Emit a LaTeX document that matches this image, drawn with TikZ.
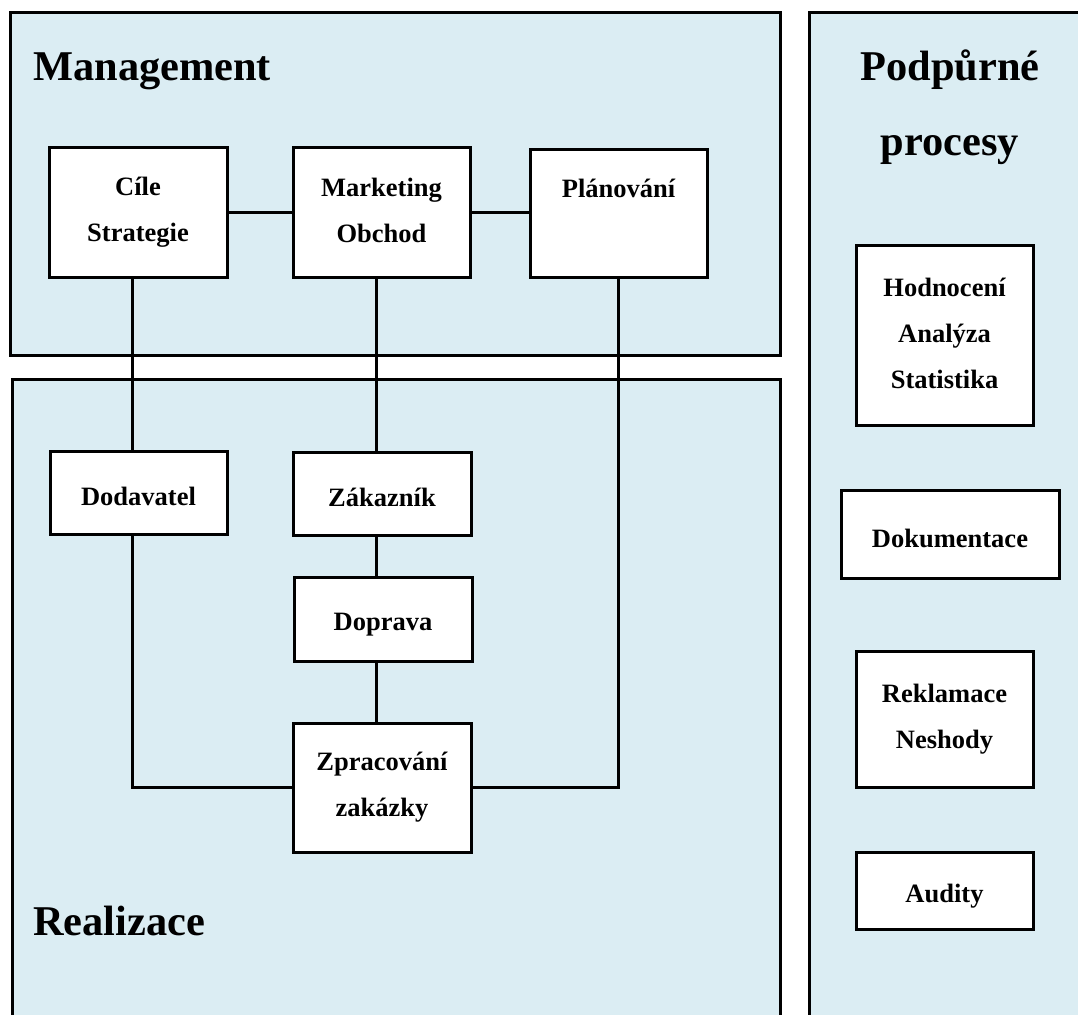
\documentclass[tikz,border=0pt]{standalone}
\usepackage{fontspec}
\setmainfont{Liberation Serif}
\definecolor{panelfill}{RGB}{219,237,243}
% uniform first-line height and last-line depth inside the process boxes
\newcommand\procstrut{\rule[-3pt]{0pt}{32pt}}
\begin{document}
\begin{tikzpicture}[x=1pt,y=-1pt,
  panelbox/.style={draw=black, line width=3pt, fill=panelfill},
  procbox/.style={draw=black, line width=3pt, fill=white, align=center,
    inner sep=0pt, font=\fontsize{26.5}{46}\selectfont\bfseries,
    execute at begin node=\procstrut, execute at end node=\procstrut},
  link/.style={draw=black, line width=3pt},
  paneltitle/.style={font=\fontsize{42.4}{75}\selectfont\bfseries, inner sep=0pt}]
\clip (0,0) rectangle (1078,1014);
\fill[white] (0,0) rectangle (1078,1014);

% panels
\draw[panelbox] (10,13) rectangle (780,355);
\draw[panelbox] (12,379) rectangle (780,1040);
\draw[panelbox] (809,13) rectangle (1100,1040);

% panel titles
\node[paneltitle, anchor=base west] (mgmt) at (33,81) {Management};
\node[paneltitle, anchor=base west] (real) at (33,935) {Realizace};
\node[paneltitle, align=center, anchor=base] (podp) at (950,155) {Podpůrné\\procesy};

% columns of the vertical connectors
\coordinate (cx) at (132,0);
\coordinate (mx) at (376,0);

% management processes
\node[procbox, minimum width=178, minimum height=130] (cile) at (138,212) {Cíle\\Strategie};
\node[procbox, minimum width=177, minimum height=130] (mark) at (381.5,212) {Marketing\\Obchod};
\node[procbox, minimum width=177, minimum height=128] (plan) at (618.5,213) {Plánování\\~};

% realization processes
\node[procbox, minimum width=177, minimum height=83] (dod) at (138.5,492.5) {Dodavatel};
\node[procbox, minimum width=178, minimum height=83] (zak) at (382,493.5) {Zákazník};
\node[procbox, minimum width=178, minimum height=84] (dop) at (383,619) {Doprava};
\node[procbox, minimum width=178, minimum height=129] (zpr) at (382,787.5) {Zpracování\\zakázky};

% support processes
\node[procbox, minimum width=177, minimum height=180] (hod) at (944.5,335) {Hodnocení\\Analýza\\Statistika};
\node[procbox, minimum width=218, minimum height=88] (dok) at (950,534) {Dokumentace};
\node[procbox, minimum width=177, minimum height=136] (rek) at (944.5,719) {Reklamace\\Neshody};
\node[procbox, minimum width=177, minimum height=77] (aud) at (944.5,890.5) {Audity};

% connectors
\draw[link] (cile.east) -- (mark.west);
\draw[link] (mark.east) -- (plan.west |- mark.east);
\draw[link] (cx |- cile.south) -- (cx |- dod.north);
\draw[link] (mx |- mark.south) -- (mx |- zak.north);
\draw[link] (mx |- zak.south) -- (mx |- dop.north);
\draw[link] (mx |- dop.south) -- (mx |- zpr.north);
\draw[link] (cx |- dod.south) |- (zpr.west);
\draw[link] (zpr.east) -| (plan.south);
\end{tikzpicture}
\end{document}
